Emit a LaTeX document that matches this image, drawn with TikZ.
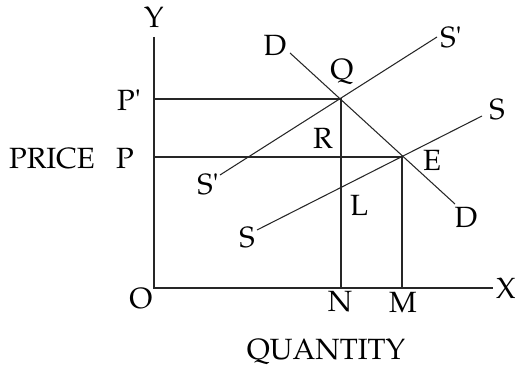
\documentclass[tikz,border=0pt]{standalone}
\usepackage[T1]{fontenc}
\usepackage{mathpazo}
\usetikzlibrary{positioning}

\begin{document}
\begin{tikzpicture}[x=0.03cm, y=-0.03cm,
  ln/.style={line width=0.9pt, black!85},
  lbl/.style={font=\fontsize{25}{28}\selectfont, inner sep=0pt}]
\useasboundingbox (0,0) rectangle (518,367);
% axes and points
\coordinate (o) at (154,288);
\coordinate (ytop) at (154,37);
\coordinate (xend) at (493,288);
\coordinate (q) at (341,99);
\coordinate (e) at (402,157);
\coordinate (pp) at (154,99);
\coordinate (p) at (154,157);
\coordinate (n) at (341,288);
\coordinate (m) at (402,288);
\coordinate (d1) at (290,53);
\coordinate (d2) at (455,204);
\coordinate (s1a) at (220,175);
\coordinate (s1b) at (437,37);
\coordinate (sa) at (257,230);
\coordinate (sb) at (482,116);
\draw[ln] (ytop) -- (o) -- (xend);
\draw[ln] (pp) -- (q) -- (n);
\draw[ln] (p) -- (e) -- (m);
\draw[ln] (d1) -- (d2);
\draw[ln] (s1a) -- (s1b);
\draw[ln] (sa) -- (sb);
% labels
\node[lbl] (ly) at (154,17) {Y};
\node[lbl] (lx) at (506,288) {X};
\node[lbl] (lo) at (141,299) {O};
\node[lbl] (lpp) at (129,100) {P\textquotesingle};
\node[lbl] (lp) at (125,158) {P};
\node[lbl] (price) at (52,159) {PRICE};
\node[lbl] (quant) at (326,352) {QUANTITY};
\node[lbl] (ln) at (340,302) {N};
\node[lbl] (lm) at (403,302) {M};
\node[lbl] (ldu) at (275,45) {D};
\node[lbl] (ldl) at (466,217) {D};
\node[lbl] (lsu) at (451,37) {S\textquotesingle};
\node[lbl] (lsl) at (208,184) {S\textquotesingle};
\node[lbl] (lsr) at (497,110) {S};
\node[lbl] (ls) at (247,238) {S};
\node[lbl] (lq) at (342,72) {Q};
\node[lbl] (lr) at (323,138) {R};
\node[lbl] (le) at (432,160) {E};
\node[lbl] (ll) at (359,205) {L};
\end{tikzpicture}
\end{document}
